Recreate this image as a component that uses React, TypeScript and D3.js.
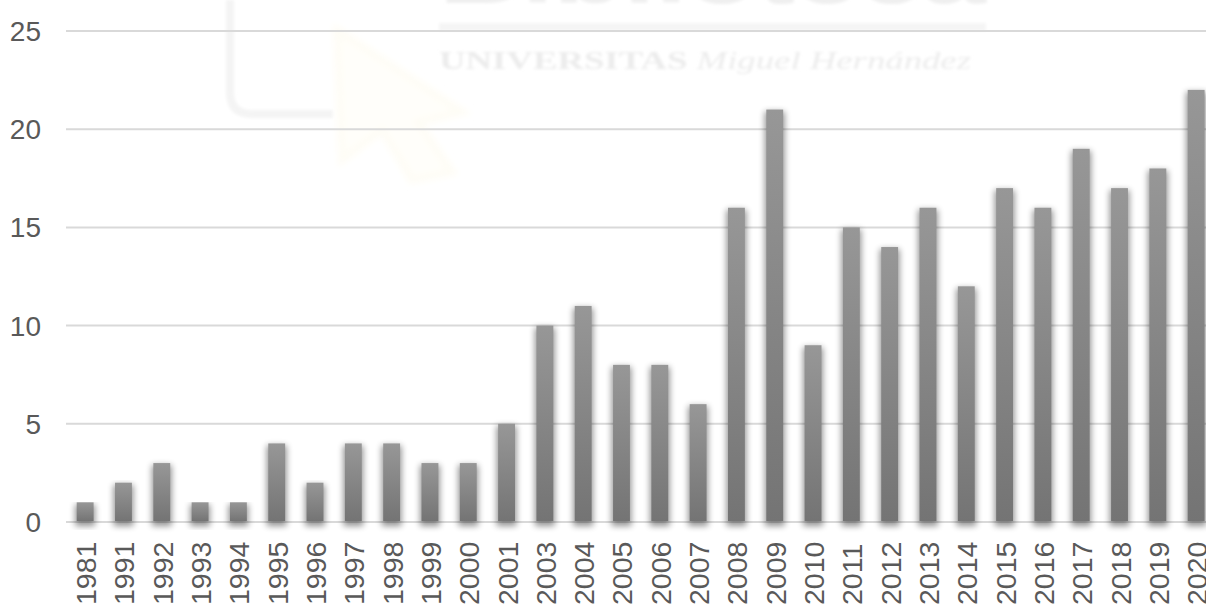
import React from "react";
import * as d3 from "d3";

const years = ["1981","1991","1992","1993","1994","1995","1996","1997","1998","1999","2000","2001","2003","2004","2005","2006","2007","2008","2009","2010","2011","2012","2013","2014","2015","2016","2017","2018","2019","2020"];
const counts = [1,2,3,1,1,4,2,4,4,3,3,5,10,11,8,8,6,16,21,9,15,14,16,12,17,16,19,17,18,22];
const yTicks = [0,5,10,15,20,25];

const W = 1206, H = 606;
const FONT = "'Liberation Sans', Arial, sans-serif";

export default function App() {
  const x = d3.scaleBand<string>().domain(years).range([66, 66 + 30 * 38.31]).paddingInner(0.56).paddingOuter(0.28);
  const y = d3.scaleLinear().domain([0, 25]).range([522, 31]);
  const bw = x.bandwidth();
  return (
    <svg width={W} height={H} viewBox={`0 0 ${W} ${H}`} style={{ position: "fixed", left: 0, top: 0, background: "#fff" }}>
      <defs>
        <linearGradient id="barGrad" x1="0" y1="0" x2="0" y2="1">
          <stop offset="0" stopColor="#979797" />
          <stop offset="1" stopColor="#747474" />
        </linearGradient>
        <filter id="shadow" x="-80%" y="-10%" width="260%" height="125%">
          <feGaussianBlur stdDeviation="3.4" />
        </filter>
        <filter id="wm" x="-5%" y="-60%" width="110%" height="220%">
          <feGaussianBlur stdDeviation="1.8" />
        </filter>
        <filter id="wm2" x="-20%" y="-20%" width="140%" height="140%">
          <feGaussianBlur stdDeviation="3" />
        </filter>
      </defs>

      <g>
        <path d="M230,0 V92 Q230,114 252,114 H333" fill="none" stroke="#f4f4f4" strokeWidth={8} filter="url(#wm)" />
        <path d="M408,0 V68" fill="none" stroke="#f4f4f4" strokeWidth={8} filter="url(#wm)" />
        <path d="M337,30 L462,112 L418,122 L452,172 L412,180 L382,130 L342,160 Z" fill="#fffefa" stroke="#fefdf6" strokeWidth={8} filter="url(#wm2)" />
        <rect x={439} y={23} width={547} height={8} fill="#f5f5f5" filter="url(#wm)" />
        <text x={439} y={3} fontFamily={FONT} fontSize={78} fontWeight={700} fill="#efefef" filter="url(#wm)" textLength={547} lengthAdjust="spacingAndGlyphs">Biblioteca</text>
        <text x={439} y={69} fontFamily="'Liberation Serif', serif" fontSize={25} fontWeight={700} fill="#ececec" filter="url(#wm)" textLength={532} lengthAdjust="spacingAndGlyphs">UNIVERSITAS <tspan fontStyle="italic" fontWeight={400}>Miguel Hernández</tspan></text>
      </g>

      {yTicks.map(t => (
        <line key={t} x1={66} x2={W} y1={y(t)} y2={y(t)} stroke="#d9d9d9" strokeWidth={2} />
      ))}

      {years.map((yr, i) => (
        <rect key={yr} x={x(yr)! - 1.5} y={y(counts[i]) + 2} width={bw + 3} height={y(0) - y(counts[i]) + 2} fill="#000" opacity={0.42} filter="url(#shadow)" />
      ))}
      {years.map((yr, i) => (
        <rect key={yr} x={x(yr)!} y={y(counts[i])} width={bw} height={y(0) - y(counts[i]) - 1} fill="url(#barGrad)" />
      ))}

      {yTicks.map(t => (
        <text key={t} x={41} y={y(t) + 10} textAnchor="end" fontFamily={FONT} fontSize={28} fill="#595959">{t}</text>
      ))}
      {years.map(yr => (
        <text key={yr} transform={`translate(${x(yr)! + bw / 2 + 11},605) rotate(-90)`} fontFamily={FONT} fontSize={28.5} fill="#595959">{yr}</text>
      ))}
    </svg>
  );
}
